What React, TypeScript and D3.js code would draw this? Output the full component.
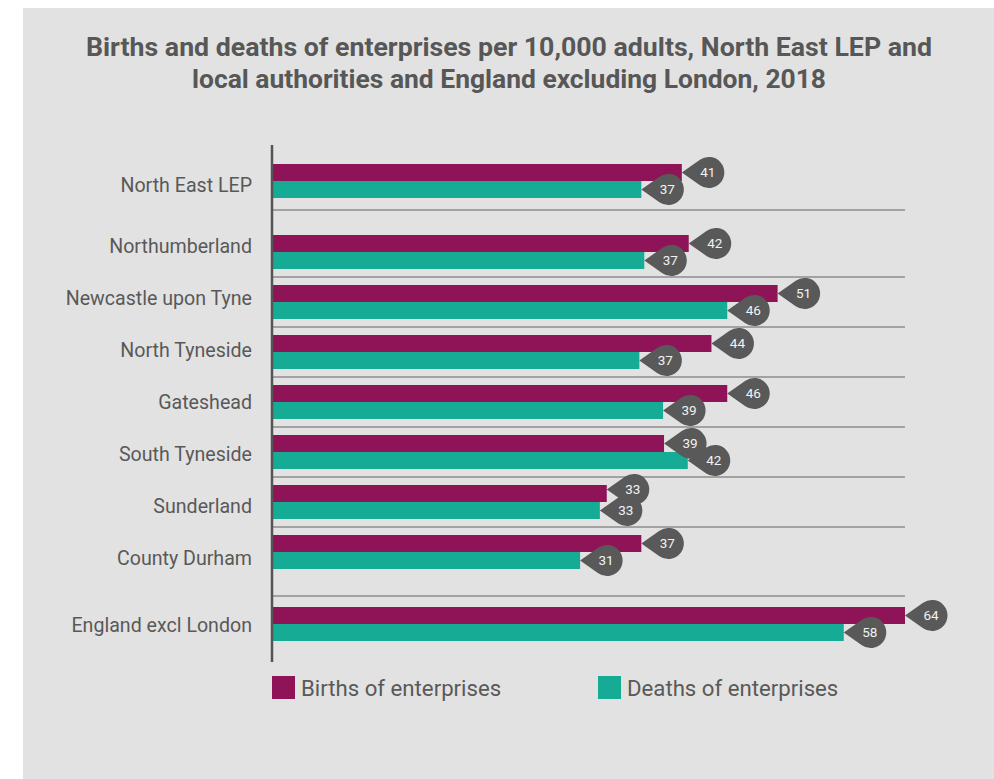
import React from "react";
import * as d3 from "d3";

const categories = [
  "North East LEP",
  "Northumberland",
  "Newcastle upon Tyne",
  "North Tyneside",
  "Gateshead",
  "South Tyneside",
  "Sunderland",
  "County Durham",
  "England excl London",
];
const groups = ["lep", "la", "la", "la", "la", "la", "la", "la", "eng"];
const births = [41.4, 42.1, 51.1, 44.4, 46.0, 39.6, 33.8, 37.3, 64.0];
const deaths = [37.3, 37.6, 46.0, 37.1, 39.5, 42.0, 33.1, 31.1, 57.8];
const birthsLabels = ["41", "42", "51", "44", "46", "39", "33", "37", "64"];
const deathsLabels = ["37", "37", "46", "37", "39", "42", "33", "31", "58"];
const seriesNames = ["Births of enterprises", "Deaths of enterprises"];
const seriesColors = ["#8e1457", "#16ab94"];
const titleLines = [
  "Births and deaths of enterprises per 10,000 adults, North East LEP and",
  "local authorities and England excluding London, 2018",
];

const W = 994;
const H = 779;
const FONT = "Roboto, 'DejaVu Sans', sans-serif";
const TEXT = "#595959";
const BUBBLE = "#595959";

function teardrop(tx: number, ty: number, d: number, r: number) {
  const cx = tx + d;
  const beta = Math.acos(r / d);
  const ux = cx - r * Math.cos(beta);
  const uy = ty - r * Math.sin(beta);
  const ly = ty + r * Math.sin(beta);
  return `M${tx},${ty}L${ux},${uy}A${r},${r} 0 1 1 ${ux},${ly}Z`;
}

export default function App() {
  const x = d3.scaleLinear().domain([0, 64]).range([273, 905]);
  const y = d3
    .scaleBand<string>()
    .domain(categories)
    .range([177, 627])
    .paddingInner(0.32)
    .paddingOuter(0.16);
  const bw = y.bandwidth();
  const sub = d3.scaleBand<number>().domain([0, 1]).range([0, bw]);
  const shift: Record<string, number> = { lep: -21, la: 0, eng: 22 };
  const top = (i: number) => (y(categories[i]) as number) + shift[groups[i]];
  const laIdx = categories.map((_, i) => i).filter((i) => groups[i] === "la");
  const labelY = d3
    .scaleLinear()
    .domain([laIdx[0], laIdx[laIdx.length - 1]])
    .range([246.5, 558.5]);
  const labelPos = (i: number) => {
    const c = top(i) + bw / 2;
    if (groups[i] === "lep") return c + 4;
    if (groups[i] === "eng") return c + 1.5;
    return labelY(i);
  };
  const sepY = (i: number) =>
    i === 1 ? top(0) + bw + 12 : top(i) - (groups[i] === "eng" ? 11 : 8);

  const series = [births, deaths];
  const seriesLabels = [birthsLabels, deathsLabels];
  const R = 15.5;
  const D = 27;

  return (
    <svg
      width={W}
      height={H}
      style={{ position: "absolute", left: 0, top: 0, background: "#fff" }}
    >
      <rect x={23} y={8} width={W - 23} height={H - 8} fill="#e2e2e2" />
      <g fontFamily={FONT} fontWeight={700} fontSize={25.5} fill="#575757" textAnchor="middle">
        {titleLines.map((t, i) => (
          <text
            key={i}
            x={509}
            y={56 + i * 32}
            textLength={i === 0 ? 846 : 634}
            lengthAdjust="spacingAndGlyphs"
          >
            {t}
          </text>
        ))}
      </g>
      {categories.map((c, i) =>
        i === 0 ? null : (
          <line
            key={"sep" + i}
            x1={x(0)}
            x2={x.range()[1]}
            y1={sepY(i)}
            y2={sepY(i)}
            stroke="#8c8c8c"
            strokeWidth={1.5}
          />
        )
      )}
      {series.map((vals, s) =>
        vals.map((v, i) => (
          <rect
            key={"b" + s + "-" + i}
            x={x(0)}
            y={top(i) + (sub(s) as number)}
            width={x(v) - x(0)}
            height={sub.bandwidth()}
            fill={seriesColors[s]}
          />
        ))
      )}
      <line x1={272} x2={272} y1={145} y2={662} stroke="#555" strokeWidth={2.5} />
      <g fontFamily={FONT} fontSize={19.6} fill={TEXT} textAnchor="end">
        {categories.map((c, i) => (
          <text key={c} x={252} y={labelPos(i)} dy="0.355em">
            {c}
          </text>
        ))}
      </g>
      {categories.map((c, i) => {
        const close = Math.abs(x(births[i]) - x(deaths[i])) < 12;
        return series.map((vals, s) => {
          const tx = x(vals[i]);
          const nudge = close && s === 0 ? -4 : 0;
          const ty = top(i) + (sub(s) as number) + sub.bandwidth() / 2 + nudge;
          return (
            <g key={"lab" + i + "-" + s}>
              <path d={teardrop(tx, ty, D, R)} fill={BUBBLE} />
              <text
                x={tx + D - 1}
                y={ty}
                dy="0.36em"
                textAnchor="middle"
                fontFamily={FONT}
                fontSize={13.5}
                fill="#f2f2f2"
              >
                {seriesLabels[s][i]}
              </text>
            </g>
          );
        });
      })}
      <g fontFamily={FONT} fontSize={22.2} fill={TEXT}>
        {seriesNames.map((n, s) => {
          const lx = s === 0 ? 272 : 598;
          return (
            <g key={n}>
              <rect x={lx} y={676} width={23} height={23} fill={seriesColors[s]} />
              <text x={lx + 29} y={696}>
                {n}
              </text>
            </g>
          );
        })}
      </g>
    </svg>
  );
}
